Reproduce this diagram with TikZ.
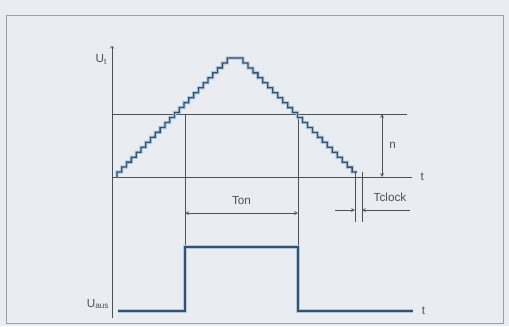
\documentclass[tikz,border=0pt]{standalone}
\usepackage{fontspec}
\setmainfont{Liberation Sans}
\usepackage{xcolor}
\definecolor{paper}{HTML}{E9ECF1}
\definecolor{ink}{HTML}{4B5059}
\definecolor{stair}{HTML}{34516E}
\definecolor{glow}{HTML}{AFC8E0}
\tikzset{guide/.style={ink,line width=0.6pt},dim/.style={ink,line width=0.5pt,>=stealth},
  lab/.style={ink,inner sep=1pt},sig/.style={stair,line width=1.1pt,line join=miter,preaction={draw=glow,line width=2.8pt}}}
\begin{document}
\begin{tikzpicture}[x=0.03cm,y=-0.03cm]
\useasboundingbox (0,0) rectangle (509,326);
\fill[paper] (0,0) rectangle (509,326);
\draw[ink!55,line width=0.8pt] (6,15) rectangle (503,323);
% axes and threshold lines
\draw[guide,->] (112,318)--(112,46) node[lab,left=3pt,pos=0.95] (ut) {U\textsubscript{t}};
\draw[guide] (112,114)--(407,114);\draw[guide] (112,177)--(412,177) node[lab,right=6pt] (t1) {t};
\draw[guide] (185,114)--(185,311);\draw[guide] (298,114)--(298,311);
% staircase
\draw[sig] (117,177) \foreach \i in {1,...,24} {-- ++(0,-4.96) -- ++(4.79,0)} -- (243,58)
  \foreach \i in {1,...,23} {-- ++(0,4.96) -- ++(4.96,0)};
\draw[guide] (355,172)--(355,222);\draw[guide] (362,172)--(362,222);
% pulse
\draw[sig] (118,311)--(185,311)--(185,247)--(298,247)--(298,311)--(413,311) node[lab,right=6pt] (t2) {t};
\node[lab] (uaus) at (98,304) {U\textsubscript{aus}};
% dimensions
\coordinate (n-top) at (382,114);\coordinate (n-bot) at (382,177);
\draw[dim,<->] (n-top)--(n-bot) node[lab,midway,right=5pt] (n) {n};
\coordinate (ton-l) at (185,213);\coordinate (ton-r) at (298,213);
\draw[dim,<->] (ton-l)--(ton-r) node[lab,midway,above=6pt] (ton) {Ton};
\coordinate (clk-a) at (335,210);\coordinate (clk-l) at (355,210);
\coordinate (clk-b) at (410,210);\coordinate (clk-r) at (362,210);
\draw[dim,->] (clk-a)--(clk-l);\draw[dim,->] (clk-b)--(clk-r);
\node[lab,anchor=south] (tclock) at (390,203) {Tclock};
\end{tikzpicture}
\end{document}
